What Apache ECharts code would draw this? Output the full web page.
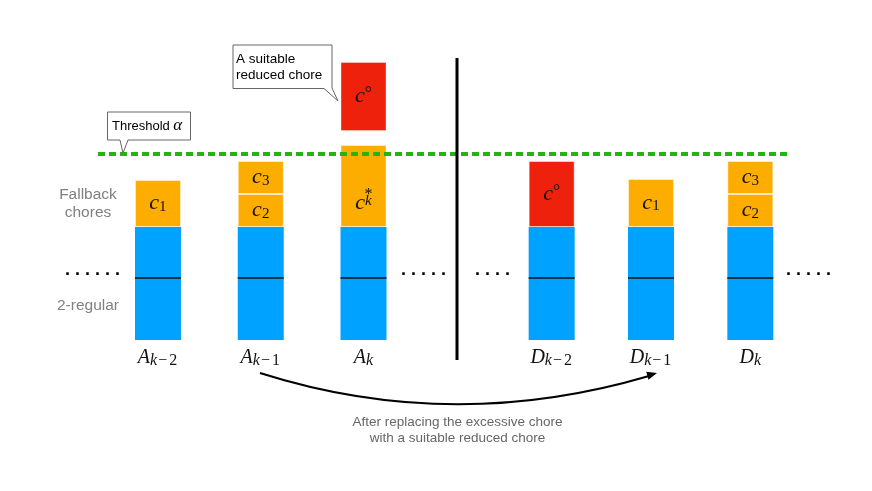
<!DOCTYPE html>
<html>
<head>
<meta charset="utf-8">
<script src="https://cdn.jsdelivr.net/npm/echarts@6/dist/echarts.min.js"></script>
<style>html,body{margin:0;padding:0;background:#fff;}#c{width:872px;height:491px;}</style>
</head>
<body>
<div id="c"></div>
<script>
// ---- data ----
const categoriesA = ['A_{k−2}', 'A_{k−1}', 'A_k'];
const categoriesD = ['D_{k−2}', 'D_{k−1}', 'D_k'];
const regularLower = [6.2, 6.2, 6.2, 6.2, 6.2, 6.2];
const regularUpper = [5.1, 5.1, 5.1, 5.1, 5.1, 5.1];
const firstChore = [4.7, 3.3, 8.2, 6.6, 4.8, 3.3];
const firstChoreKind = ['fallback', 'fallback', 'fallback', 'reduced', 'fallback', 'fallback'];
const firstChoreLabel = ['c_1', 'c_2', 'c_k^*', 'c^°', 'c_1', 'c_2'];
const secondChore = [null, 3.3, null, null, null, 3.3];
const secondChoreLabel = ['', 'c_3', '', '', '', 'c_3'];
const proposedBase = [null, null, 20.9, null, null, null];
const proposedChore = [null, null, 6.9, null, null, null];
const proposedLabel = ['', '', 'c^°', '', '', ''];
const threshold = 18.6;

// ---- styles ----
const COLORS = { regular: '#00A2FF', fallback: '#FDAC00', reduced: '#EE220C', threshold: '#22B510' };
const BAR_W = 46;
const SERIF = 'Liberation Serif';
const SANS = 'Liberation Sans';

const rich = {
  mb: { fontFamily: SERIF, fontStyle: 'italic', fontSize: 22, lineHeight: 22, color: '#111' },
  mb2: { fontFamily: SERIF, fontStyle: 'italic', fontSize: 22, lineHeight: 12, color: '#111' },
  si: { fontFamily: SERIF, fontStyle: 'italic', fontSize: 15, lineHeight: 10, verticalAlign: 'bottom', color: '#111' },
  sr: { fontFamily: SERIF, fontSize: 15, lineHeight: 10, verticalAlign: 'bottom', color: '#111' },
  sup: { fontFamily: SERIF, fontSize: 18, lineHeight: 18, verticalAlign: 'top', color: '#111' },
  ss: { fontFamily: SERIF, fontSize: 16, lineHeight: 4, padding: [0, 0, 0, 10], color: '#111' },
  ab: { fontFamily: SERIF, fontStyle: 'italic', fontSize: 20, lineHeight: 22, color: '#111' },
  asi: { fontFamily: SERIF, fontStyle: 'italic', fontSize: 16, lineHeight: 12, verticalAlign: 'bottom', color: '#111' },
  asr: { fontFamily: SERIF, fontSize: 16, lineHeight: 12, verticalAlign: 'bottom', padding: [0, 1, 0, 1], color: '#111' }
};

function subTokens(s, it, rm) {
  return s.split('').map(ch => /[a-z]/i.test(ch) ? '{' + it + '|' + ch + '}' : '{' + rm + '|' + ch + '}').join('');
}
function tex(s, axis) {
  if (!s) return '';
  const m = s.match(/^([A-Za-z])(?:_\{?([^}^]*)\}?)?(?:\^\{?([^}]*)\}?)?$/);
  const base = m[1], sub = m[2], sup = m[3];
  if (axis) return '{ab|' + base + '}' + (sub ? subTokens(sub, 'asi', 'asr') : '');
  if (sub && sup) return '{ss|' + sup + '}\n{mb2|' + base + '}' + subTokens(sub, 'si', 'sr');
  return '{mb|' + base + '}' + (sub ? subTokens(sub, 'si', 'sr') : '') + (sup ? '{sup|' + sup + '}' : '');
}

function pick(arr, g) { return g === 0 ? arr.slice(0, 3) : arr.slice(3); }

const series = [];
[0, 1].forEach(g => {
  const off = g * 3;
  const stack = 'g' + g;
  const base = { type: 'bar', xAxisIndex: g, yAxisIndex: g, stack, barWidth: BAR_W, animation: false };
  series.push(Object.assign({}, base, {
    name: '2-regular lower', data: pick(regularLower, g),
    itemStyle: { color: COLORS.regular }
  }));
  series.push(Object.assign({}, base, {
    name: '2-regular upper', data: pick(regularUpper, g),
    itemStyle: { color: COLORS.regular }
  }));
  series.push(Object.assign({}, base, {
    name: 'first chore',
    data: pick(firstChore, g).map((v, i) => ({
      value: v,
      itemStyle: { color: COLORS[firstChoreKind[off + i]], borderColor: 'rgba(255,255,255,0.45)', borderWidth: 1 },
      label: /\^/.test(firstChoreLabel[off + i]) && /_/.test(firstChoreLabel[off + i]) ? { offset: [0, 15] } : {}
    })),
    label: { show: true, position: 'inside', rich, formatter: p => tex(firstChoreLabel[off + p.dataIndex]) }
  }));
  series.push(Object.assign({}, base, {
    name: 'second chore', data: pick(secondChore, g),
    itemStyle: { color: COLORS.fallback, borderColor: 'rgba(255,255,255,0.45)', borderWidth: 1 },
    label: { show: true, position: 'inside', rich, formatter: p => tex(secondChoreLabel[off + p.dataIndex]) }
  }));
  const gap = pick(proposedBase, g).map((b, i) => b == null ? null :
    b - (regularLower[off + i] + regularUpper[off + i] + (firstChore[off + i] || 0) + (secondChore[off + i] || 0)));
  series.push(Object.assign({}, base, {
    name: 'gap', data: gap, itemStyle: { color: 'rgba(0,0,0,0)' }, silent: true
  }));
  series.push(Object.assign({}, base, {
    name: 'suitable reduced chore', data: pick(proposedChore, g),
    itemStyle: { color: COLORS.reduced, borderColor: 'rgba(255,255,255,0.35)', borderWidth: 1 },
    label: { show: true, position: 'inside', rich, formatter: p => tex(proposedLabel[off + p.dataIndex]) }
  }));
  // divider between the two halves of the 2-regular block
  const cats = g === 0 ? categoriesA : categoriesD;
  series.push({
    type: 'custom', xAxisIndex: g, yAxisIndex: g, z: 5, animation: false,
    data: pick(regularLower, g).map((v, i) => [cats[i], v]),
    renderItem: (params, api) => {
      const p = api.coord([api.value(0), api.value(1)]);
      return { type: 'line', shape: { x1: p[0] - BAR_W / 2, y1: p[1], x2: p[0] + BAR_W / 2, y2: p[1] },
        style: { stroke: '#111', lineWidth: 1.3 } };
    }
  });
});

// threshold line
series.push({
  type: 'line', xAxisIndex: 2, yAxisIndex: 2, z: 10, symbol: 'none', animation: false,
  data: [[0, threshold], [1, threshold]],
  lineStyle: { color: COLORS.threshold, width: 4, type: [7, 4], cap: 'butt' }
});

const yAxisBase = { type: 'value', min: 0, max: 30, show: false };
const xCatBase = {
  type: 'category', axisLine: { show: false }, axisTick: { show: false }, splitLine: { show: false },
  axisLabel: { interval: 0, margin: 7, rich, formatter: v => tex(v, true) }
};

const option = {
  backgroundColor: '#ffffff',
  animation: false,
  grid: [
    { left: 106.6, right: 457.1, top: 40, bottom: 151 },
    { left: 502, right: 72, top: 40, bottom: 151 },
    { left: 98, right: 81, top: 40, bottom: 151 }
  ],
  xAxis: [
    Object.assign({ gridIndex: 0, data: categoriesA }, xCatBase),
    Object.assign({ gridIndex: 1, data: categoriesD }, xCatBase),
    { gridIndex: 2, type: 'value', min: 0, max: 1, show: false }
  ],
  yAxis: [
    Object.assign({ gridIndex: 0 }, yAxisBase),
    Object.assign({ gridIndex: 1 }, yAxisBase),
    Object.assign({ gridIndex: 2 }, yAxisBase)
  ],
  series,
  graphic: [
    // separator
    { type: 'line', z: 50, shape: { x1: 457, y1: 58, x2: 457, y2: 360 }, style: { stroke: '#000', lineWidth: 3 } },
    // side labels
    { type: 'text', z: 50, style: { text: 'Fallback\nchores', x: 88, y: 204, align: 'center', verticalAlign: 'middle',
      fontFamily: SANS, fontSize: 15.5, lineHeight: 18, fill: '#808080' } },
    { type: 'text', z: 50, style: { text: '2-regular', x: 88, y: 306, align: 'center', verticalAlign: 'middle',
      fontFamily: SANS, fontSize: 15.5, fill: '#808080' } },
    // ellipses
    { type: 'text', z: 50, style: { text: '. . . . . .', x: 65, y: 270, align: 'left', verticalAlign: 'middle', fontFamily: SANS, fontWeight: 'bold', fontSize: 18, fill: '#000' } },
    { type: 'text', z: 50, style: { text: '. . . . .', x: 401, y: 270, align: 'left', verticalAlign: 'middle', fontFamily: SANS, fontWeight: 'bold', fontSize: 18, fill: '#000' } },
    { type: 'text', z: 50, style: { text: '. . . .', x: 475, y: 270, align: 'left', verticalAlign: 'middle', fontFamily: SANS, fontWeight: 'bold', fontSize: 18, fill: '#000' } },
    { type: 'text', z: 50, style: { text: '. . . . .', x: 786, y: 270, align: 'left', verticalAlign: 'middle', fontFamily: SANS, fontWeight: 'bold', fontSize: 18, fill: '#000' } },
    // threshold callout
    { type: 'polygon', z: 60, shape: { points: [[107.5, 112], [190.5, 112], [190.5, 140], [128, 140], [123, 153], [120, 140], [107.5, 140]] },
      style: { fill: '#fff', stroke: '#666', lineWidth: 1 } },
    { type: 'text', z: 61, style: { text: '{t|Threshold} {a|α}', x: 112, y: 126, align: 'left', verticalAlign: 'middle',
      rich: { t: { fontFamily: SANS, fontSize: 13, fill: '#000', color: '#000' },
              a: { fontFamily: SERIF, fontStyle: 'italic', fontSize: 17, fill: '#000', color: '#000' } } } },
    // suitable reduced chore callout
    { type: 'polygon', z: 60, shape: { points: [[233, 45], [332, 45], [332, 88], [338, 101], [324, 88.5], [233, 88.5]] },
      style: { fill: '#fff', stroke: '#666', lineWidth: 1 } },
    { type: 'text', z: 61, style: { text: 'A suitable\nreduced chore', x: 236, y: 67, align: 'left', verticalAlign: 'middle',
      fontFamily: SANS, fontSize: 13.5, lineHeight: 16, fill: '#000' } },
    // arrow
    { type: 'bezierCurve', z: 50, shape: { x1: 260, y1: 373, cpx1: 452, cpy1: 434, x2: 649, y2: 376 },
      style: { stroke: '#000', lineWidth: 2, fill: null } },
    { type: 'polygon', z: 50, shape: { points: [[657, 373], [648.5, 379.8], [646.2, 371.8]] }, style: { fill: '#000' } },
    { type: 'text', z: 50, style: { text: 'After replacing the excessive chore\nwith a suitable reduced chore', x: 457.5, y: 430,
      align: 'center', verticalAlign: 'middle', fontFamily: SANS, fontSize: 13.5, lineHeight: 16, fill: '#666' } }
  ]
};

const chart = echarts.init(document.getElementById('c'), null, { renderer: 'canvas' });
chart.setOption(option);
</script>
</body>
</html>
